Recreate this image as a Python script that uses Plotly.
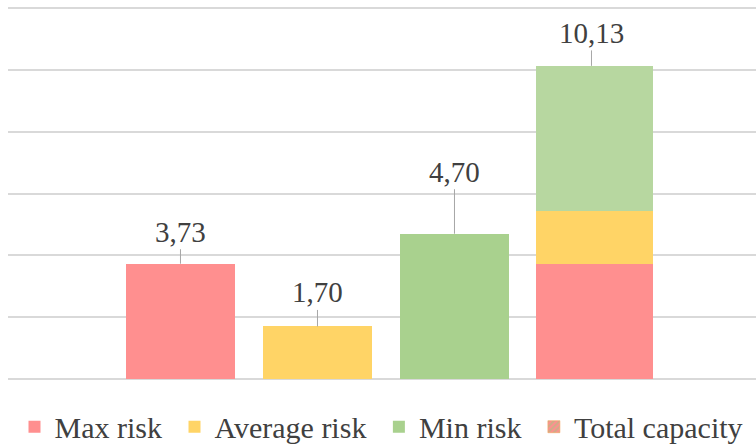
import plotly.graph_objects as go

# ---- data ----
categories = ["Max risk", "Average risk", "Min risk", "Total capacity"]
series_names = ["Max risk", "Average risk", "Min risk"]
series_values = [3.73, 1.70, 4.70]
total_name = "Total capacity"
y_ticks = [0, 2, 4, 6, 8, 10, 12]

# ---- styles ----
single_colors = ["#FF8F8F", "#FFD466", "#A9D18E"]
stack_colors = ["#FF8F8F", "#FFD466", "#B7D7A0"]
label_offsets = [-32, -34, -62, -33]
FONT = "Liberation Serif, Times New Roman, serif"
TXT = "#404040"
PAD = "\u00a0"   # small trailing space to widen legend entries

def fmt(v):
    return f"{v:.2f}".replace(".", ",")

fig = go.Figure()
for i, (name, val) in enumerate(zip(series_names, series_values)):
    fig.add_trace(go.Bar(
        name=name + PAD,
        x=[categories[i], categories[3]],
        y=[val, val],
        width=[0.79, 0.854],
        offset=[-0.395, -0.405],
        marker=dict(color=[single_colors[i], stack_colors[i]], line=dict(width=0)),
        hoverinfo="skip",
    ))

fig.add_trace(go.Bar(
    name=total_name,
    x=[categories[3]],
    y=[None],
    marker=dict(color="#FF8F8F",
                pattern=dict(shape="/", fgcolor="#9CCB7E", bgcolor="#FF8F8F", size=5, solidity=0.5),
                line=dict(color="#F4A460", width=0.6)),
    hoverinfo="skip",
))

label_values = series_values + [sum(series_values)]
for i, (cat, v) in enumerate(zip(categories, label_values)):
    fig.add_annotation(
        x=cat, y=v, xref="x", yref="y",
        text=fmt(v),
        showarrow=True, arrowhead=0, arrowwidth=1, arrowcolor="#A6A6A6",
        ax=0, ay=label_offsets[i], standoff=0,
        font=dict(family=FONT, size=29, color=TXT),
    )

fig.update_layout(
    width=756, height=448,
    margin=dict(l=8, r=0, t=5, b=69, autoexpand=False),
    paper_bgcolor="white", plot_bgcolor="white",
    barmode="stack",
    showlegend=True,
    legend=dict(orientation="h", x=0.0087, xanchor="left", y=-0.058, yanchor="top",
                font=dict(family=FONT, size=30, color=TXT),
                traceorder="normal", itemclick=False, itemdoubleclick=False),
    font=dict(family=FONT, color=TXT),
)
fig.update_xaxes(type="category", categoryorder="array", categoryarray=categories,
                 range=[-1.259, 4.201], showticklabels=False, showgrid=False,
                 zeroline=False, showline=False, ticks="")
fig.update_yaxes(range=[0, 12.1], tickvals=y_ticks, showticklabels=False,
                 showgrid=True, gridcolor="#D9D9D9", gridwidth=1.5,
                 zeroline=True, zerolinecolor="#D9D9D9", zerolinewidth=1.5,
                 showline=False, ticks="")

fig.write_html("out.html", config={"displayModeBar": False},
               post_script="document.body.style.margin='0';document.body.style.overflow='hidden';")
